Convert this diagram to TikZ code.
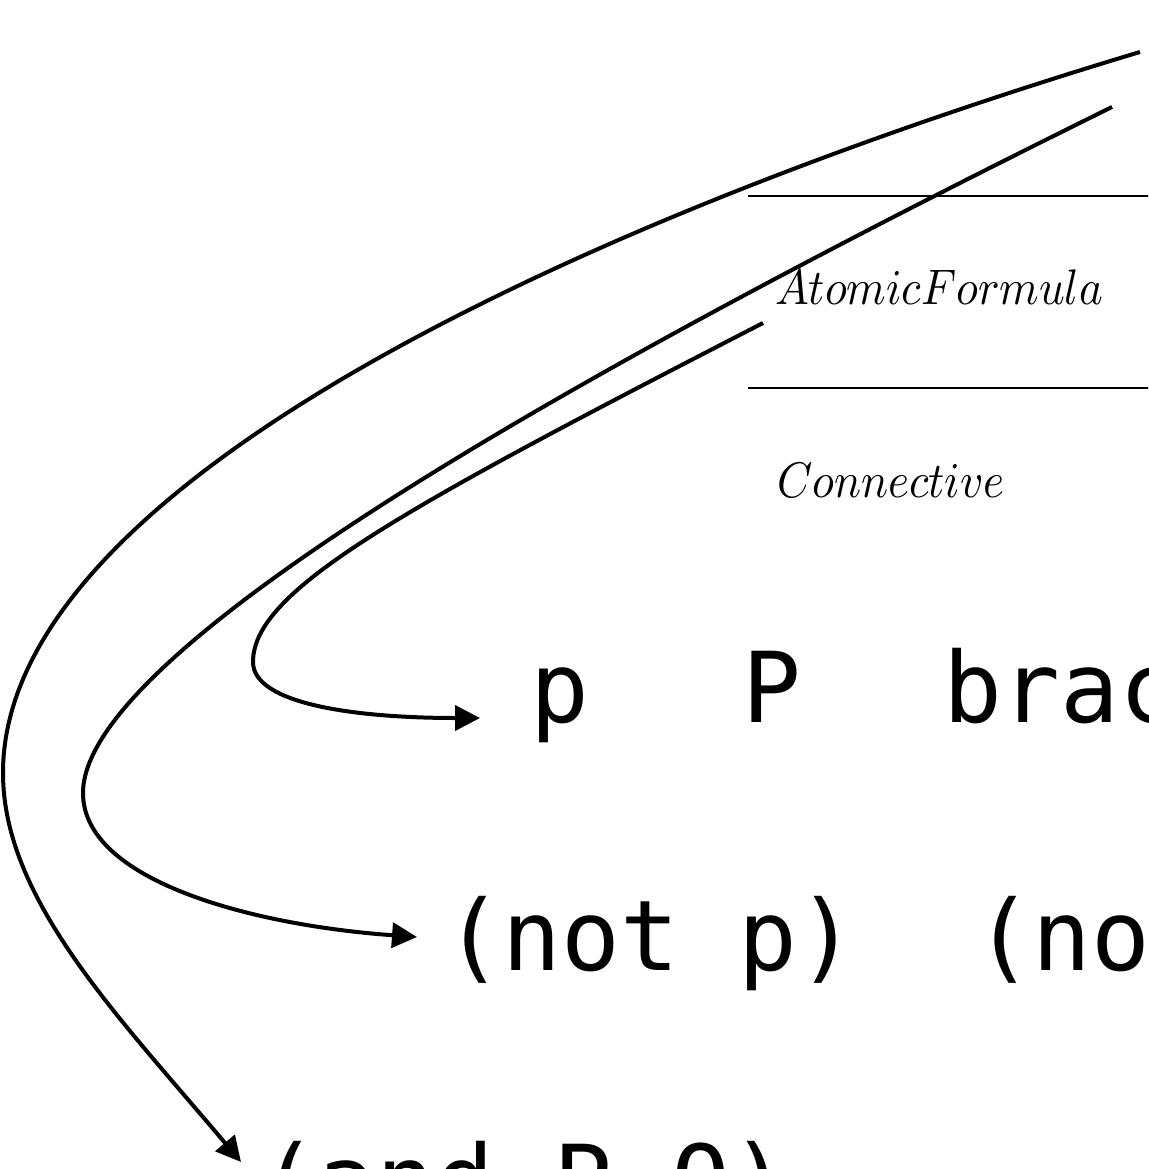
\documentclass[tikz,border=0pt]{standalone}
\usepackage{fontspec}
\newfontfamily\codefont{DejaVu Sans Mono}
\usetikzlibrary{arrows.meta}
\tikzset{
  conn/.style={line width=4pt, -{Triangle[length=25pt,width=25pt]}},
  code/.style={font=\codefont\fontsize{97.8}{110}\selectfont, anchor=base west, inner sep=0pt, outer sep=0pt},
  lbl/.style={anchor=base west, inner sep=0pt, outer sep=0pt, xscale=4.5, yscale=5.0},
  rule/.style={line width=1.2pt}
}
\begin{document}
\begin{tikzpicture}[x=1pt,y=-1pt]
  \useasboundingbox (0,0) rectangle (1148,1169);
  \clip (0,0) rectangle (1148,1169);

  % table rules
  \coordinate (r1a) at (748,196);  \coordinate (r1b) at (1160,196);
  \coordinate (r2a) at (748,388);  \coordinate (r2b) at (1160,388);
  \draw[rule] (r1a) -- (r1b);
  \draw[rule] (r2a) -- (r2b);

  % labels
  \node[lbl] (atomic) at (775,304) {$AtomicFormula$};
  \node[lbl] (connective) at (777,497) {$Connective$};

  % code rows
  \node[code] (p)    at (530,722) {p};
  \node[code] (P)    at (742,722) {P};
  \node[code] (brac) at (943,722) {brac};
  \node[code] (notp) at (444,970) {(not p)};
  \node[code] (no)   at (974,970) {(no};
  \node[code] (and)  at (259,1215) {(and P Q)};

  % connector end points
  \coordinate (sA) at (1140,52);
  \coordinate (sB) at (1112,107);
  \coordinate (sC) at (763,323);
  \coordinate (tA) at (241,1162);
  \coordinate (tB) at (417,937);
  \coordinate (tC) at (480,718);

  % connectors
  \draw[conn] (sC) .. controls (400,510) and (253,590) .. (253,662)
                   .. controls (253,705) and (360,718) .. (tC);
  \draw[conn] (sB) .. controls (650,335) and (83,640) .. (83,793)
                   .. controls (83,880) and (250,925) .. (tB);
  \draw[conn] (sA) .. controls (600,214) and (3,480) .. (3,773)
                   .. controls (3,900) and (120,1018) .. (tA);
\end{tikzpicture}
\end{document}
